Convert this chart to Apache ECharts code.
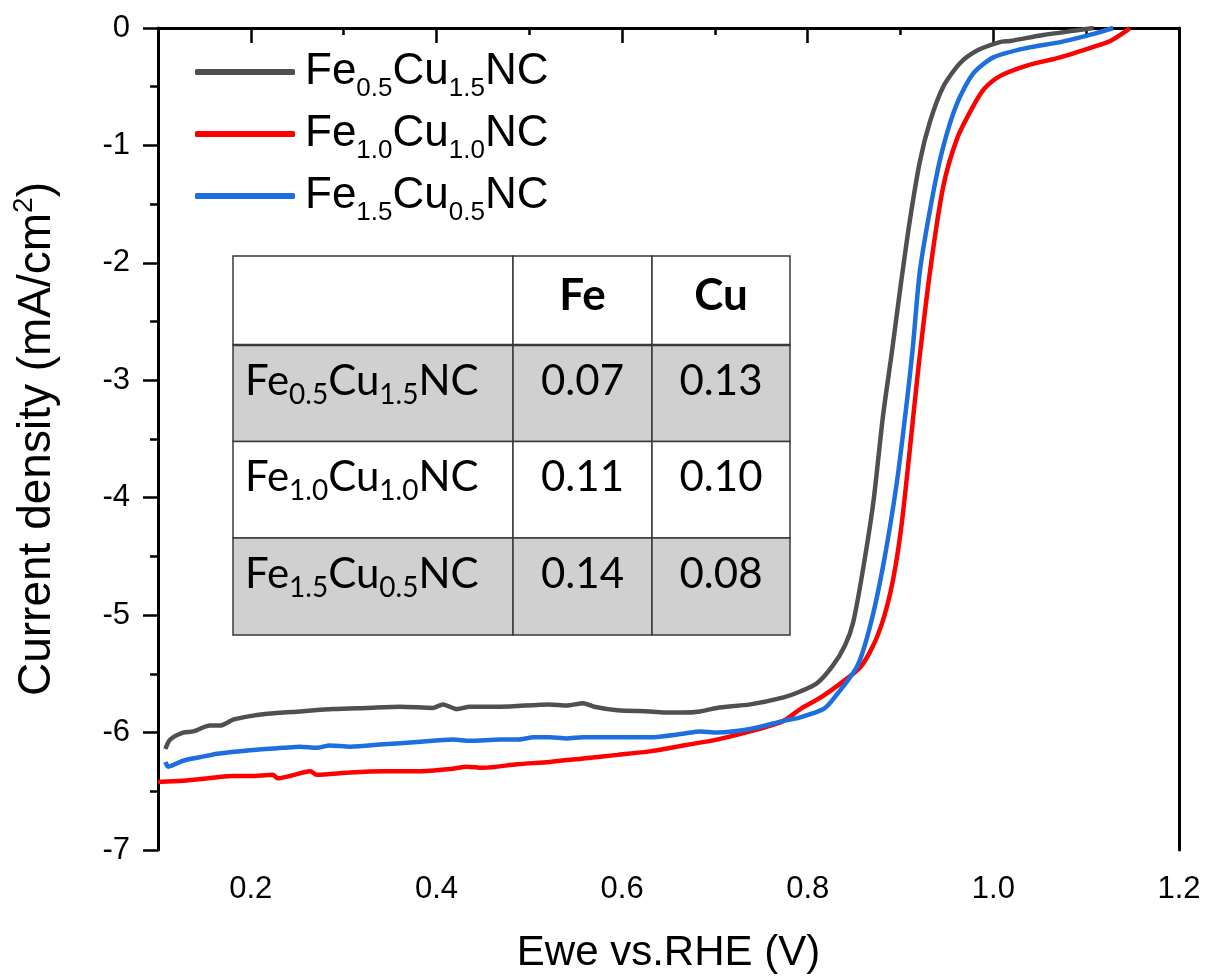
<!DOCTYPE html>
<html><head><meta charset="utf-8">
<script src="https://cdn.jsdelivr.net/npm/echarts@6/dist/echarts.min.js"></script>
<style>html,body{margin:0;padding:0;background:#fff}#c{width:1207px;height:980px}</style>
</head><body><div id="c"></div>
<script>
// ---------- data ----------
const seriesNames = ['Fe0.5Cu1.5NC', 'Fe1.0Cu1.0NC', 'Fe1.5Cu0.5NC'];
const seriesLabelParts = [['Fe','0.5','Cu','1.5','NC'], ['Fe','1.0','Cu','1.0','NC'], ['Fe','1.5','Cu','0.5','NC']];
const seriesColors = ['#505050', '#ff0000', '#1d6fe0'];

const dataFe05Cu15 = [[0.108,-6.14],[0.113,-6.06],[0.127,-6.00],[0.138,-5.99],[0.156,-5.94],[0.167,-5.94],[0.181,-5.89],[0.199,-5.86],[0.218,-5.84],[0.253,-5.82],[0.289,-5.80],[0.325,-5.79],[0.361,-5.78],[0.396,-5.79],[0.407,-5.76],[0.422,-5.80],[0.436,-5.78],[0.469,-5.78],[0.522,-5.76],[0.540,-5.77],[0.558,-5.75],[0.570,-5.78],[0.595,-5.81],[0.630,-5.82],[0.649,-5.83],[0.666,-5.83],[0.684,-5.82],[0.702,-5.79],[0.738,-5.76],[0.774,-5.70],[0.792,-5.65],[0.810,-5.58],[0.827,-5.43],[0.840,-5.26],[0.849,-5.06],[0.860,-4.59],[0.871,-4.02],[0.881,-3.31],[0.891,-2.74],[0.900,-2.20],[0.910,-1.64],[0.921,-1.13],[0.932,-0.79],[0.946,-0.50],[0.964,-0.30],[0.983,-0.19],[1.007,-0.12],[1.018,-0.11],[1.054,-0.06],[1.090,-0.02],[1.108,0]];

const dataFe10Cu10 = [[0.100,-6.42],[0.127,-6.41],[0.164,-6.38],[0.181,-6.37],[0.199,-6.37],[0.224,-6.36],[0.229,-6.39],[0.242,-6.37],[0.264,-6.33],[0.271,-6.36],[0.307,-6.34],[0.343,-6.33],[0.379,-6.33],[0.415,-6.31],[0.433,-6.29],[0.450,-6.30],[0.487,-6.27],[0.522,-6.25],[0.558,-6.22],[0.595,-6.19],[0.630,-6.16],[0.666,-6.11],[0.702,-6.06],[0.738,-5.99],[0.774,-5.90],[0.792,-5.80],[0.810,-5.72],[0.827,-5.63],[0.857,-5.44],[0.875,-5.18],[0.889,-4.81],[0.900,-4.30],[0.910,-3.59],[0.919,-2.91],[0.932,-2.06],[0.946,-1.35],[0.961,-0.94],[0.978,-0.67],[0.990,-0.52],[1.007,-0.41],[1.036,-0.32],[1.072,-0.25],[1.108,-0.16],[1.126,-0.11],[1.144,-0.02],[1.147,0]];

const dataFe15Cu05 = [[0.108,-6.25],[0.111,-6.29],[0.127,-6.24],[0.145,-6.21],[0.164,-6.18],[0.199,-6.15],[0.235,-6.13],[0.253,-6.12],[0.271,-6.13],[0.285,-6.11],[0.307,-6.12],[0.343,-6.10],[0.379,-6.08],[0.418,-6.06],[0.436,-6.07],[0.469,-6.06],[0.487,-6.06],[0.505,-6.04],[0.522,-6.04],[0.540,-6.05],[0.558,-6.04],[0.595,-6.04],[0.630,-6.04],[0.666,-6.01],[0.684,-5.99],[0.702,-6.00],[0.738,-5.97],[0.774,-5.90],[0.792,-5.87],[0.817,-5.80],[0.827,-5.72],[0.853,-5.44],[0.867,-5.10],[0.881,-4.59],[0.896,-3.87],[0.907,-3.17],[0.913,-2.74],[0.921,-2.06],[0.935,-1.41],[0.946,-1.01],[0.961,-0.64],[0.978,-0.39],[1.000,-0.25],[1.036,-0.17],[1.072,-0.12],[1.108,-0.05],[1.129,0]];

const xMajorTicks = [0.2, 0.4, 0.6, 0.8, 1.0, 1.2];
const xTickLabels = ['0.2', '0.4', '0.6', '0.8', '1.0', '1.2'];

const tableHeader = ['', 'Fe', 'Cu'];
const tableRowLabels = [['Fe','0.5','Cu','1.5','NC'], ['Fe','1.0','Cu','1.0','NC'], ['Fe','1.5','Cu','0.5','NC']];
const tableFe = ['0.07', '0.11', '0.14'];
const tableCu = ['0.13', '0.10', '0.08'];

// ---------- layout / style ----------
const AX = 'Liberation Sans';
const TF = 'Lato';
const colEdges = [233, 513, 652, 790];
const rowEdges = [256, 345, 441.5, 538, 635];
const rowFills = ['#ffffff', '#d0d0d0', '#ffffff', '#d0d0d0'];

function subRich(parts) {
  return '{m|' + parts[0] + '}{s|' + parts[1] + '}{m|' + parts[2] + '}{s|' + parts[3] + '}{m|' + parts[4] + '}';
}

const graphics = [];
for (let r = 0; r < 4; r++) {
  for (let c = 0; c < 3; c++) {
    graphics.push({
      type: 'rect', z: 10,
      shape: { x: colEdges[c], y: rowEdges[r], width: colEdges[c+1]-colEdges[c], height: rowEdges[r+1]-rowEdges[r] },
      style: { fill: rowFills[r], stroke: '#3a3a3a', lineWidth: 1.5 }
    });
  }
}
graphics.push({ type: 'line', z: 11, shape: { x1: colEdges[0], y1: rowEdges[1], x2: colEdges[3], y2: rowEdges[1] }, style: { stroke: '#3a3a3a', lineWidth: 2.5 } });
for (let c = 1; c < 3; c++) {
  graphics.push({
    type: 'text', z: 12, x: (colEdges[c]+colEdges[c+1])/2, y: (rowEdges[0]+rowEdges[1])/2 - 5,
    style: { text: tableHeader[c], fontFamily: TF, fontSize: 44, fontWeight: 'bold', fill: '#000',
      align: 'center', textAlign: 'center', verticalAlign: 'middle', textVerticalAlign: 'middle' }
  });
}
const tableRich = {
  m: { fontFamily: TF, fontSize: 42, lineHeight: 55, fill: '#000', color: '#000' },
  s: { fontFamily: TF, fontSize: 28, lineHeight: 28, verticalAlign: 'bottom', fill: '#000', color: '#000' }
};
for (let r = 0; r < 3; r++) {
  const cy = (rowEdges[r+1]+rowEdges[r+2])/2 - 12;
  graphics.push({
    type: 'text', z: 12, x: 245, y: cy,
    style: { text: subRich(tableRowLabels[r]), rich: tableRich, fill: '#000',
      align: 'left', textAlign: 'left', verticalAlign: 'middle', textVerticalAlign: 'middle' }
  });
  [tableFe[r], tableCu[r]].forEach((v, i) => {
    graphics.push({
      type: 'text', z: 12, x: (colEdges[i+1]+colEdges[i+2])/2, y: cy,
      style: { text: v, fontFamily: TF, fontSize: 42, fill: '#000',
        align: 'center', textAlign: 'center', verticalAlign: 'middle', textVerticalAlign: 'middle' }
    });
  });
}

const axisLineStyle = { color: '#000', width: 3 };

const option = {
  backgroundColor: '#fff',
  animation: false,
  grid: { left: 158, right: 28, top: 28, bottom: 130 },
  legend: {
    data: seriesNames,
    orient: 'vertical', left: 195, top: 50, padding: 0, itemGap: 10,
    itemWidth: 100, itemHeight: 6, icon: 'roundRect',
    formatter: name => {
      const p = seriesLabelParts[seriesNames.indexOf(name)];
      return '{f|' + p[0] + '}{s|' + p[1] + '}{m|' + p[2] + '}{s|' + p[3] + '}{m|' + p[4] + '}';
    },
    textStyle: {
      rich: {
        f: { fontFamily: AX, fontSize: 44, lineHeight: 60, color: '#000', padding: [0, 0, 0, 5] },
        m: { fontFamily: AX, fontSize: 44, lineHeight: 60, color: '#000' },
        s: { fontFamily: AX, fontSize: 26, lineHeight: 26, verticalAlign: 'bottom', color: '#000' }
      }
    }
  },
  xAxis: [
    { type: 'value', min: 0.1, max: 1.2, interval: 0.1, position: 'bottom',
      axisLine: { show: true, lineStyle: axisLineStyle },
      axisTick: { show: true, inside: false, length: 7, lineStyle: { color: '#000', width: 2.5 } },
      axisLabel: { show: false }, splitLine: { show: false } },
    { type: 'value', min: 0.1, max: 1.2, position: 'bottom',
      axisLine: { show: false },
      axisTick: { show: true, inside: false, length: 15, customValues: xMajorTicks, lineStyle: { color: '#000', width: 2.5 } },
      axisLabel: { show: true, customValues: xMajorTicks, margin: 24, fontFamily: AX, fontSize: 31, color: '#000',
        formatter: v => { const i = xMajorTicks.findIndex(t => Math.abs(t - v) < 1e-6); return i >= 0 ? xTickLabels[i] : ''; } },
      splitLine: { show: false },
      name: 'Ewe vs.RHE (V)', nameLocation: 'middle', nameGap: 82,
      nameTextStyle: { fontFamily: AX, fontSize: 42, color: '#000' } },
    { type: 'value', min: 0.1, max: 1.2, position: 'top',
      axisLine: { show: true, lineStyle: axisLineStyle }, axisTick: { show: false }, axisLabel: { show: false }, splitLine: { show: false } }
  ],
  yAxis: [
    { type: 'value', min: -7, max: 0, interval: 1, position: 'left',
      axisLine: { show: true, lineStyle: axisLineStyle },
      axisTick: { show: true, inside: false, length: 15, lineStyle: { color: '#000', width: 2.5 } },
      minorTick: { show: true, splitNumber: 2, length: 8, lineStyle: { color: '#000', width: 2.5 } },
      axisLabel: { fontFamily: AX, fontSize: 31, color: '#000', margin: 28 },
      splitLine: { show: false },
      name: '{t|Current density (mA/cm}{sup|2}{t|)}', nameLocation: 'middle', nameGap: 94,
      nameTextStyle: { color: '#000', rich: {
        t: { fontFamily: AX, fontSize: 46, lineHeight: 54, color: '#000' },
        sup: { fontFamily: AX, fontSize: 28, lineHeight: 28, verticalAlign: 'top', color: '#000' } } } },
    { type: 'value', min: -7, max: 0, position: 'right',
      axisLine: { show: true, lineStyle: axisLineStyle }, axisTick: { show: false }, axisLabel: { show: false }, splitLine: { show: false } }
  ],
  series: [dataFe05Cu15, dataFe10Cu10, dataFe15Cu05].map((d, i) => ({
    name: seriesNames[i], type: 'line', xAxisIndex: 0, yAxisIndex: 0,
    data: d, showSymbol: false, symbol: 'none', smooth: 0.25,
    lineStyle: { color: seriesColors[i], width: 4.5 }, itemStyle: { color: seriesColors[i] }
  })),
  graphic: graphics
};

const chart = echarts.init(document.getElementById('c'), null, { renderer: 'canvas' });
chart.setOption(option);
</script></body></html>
